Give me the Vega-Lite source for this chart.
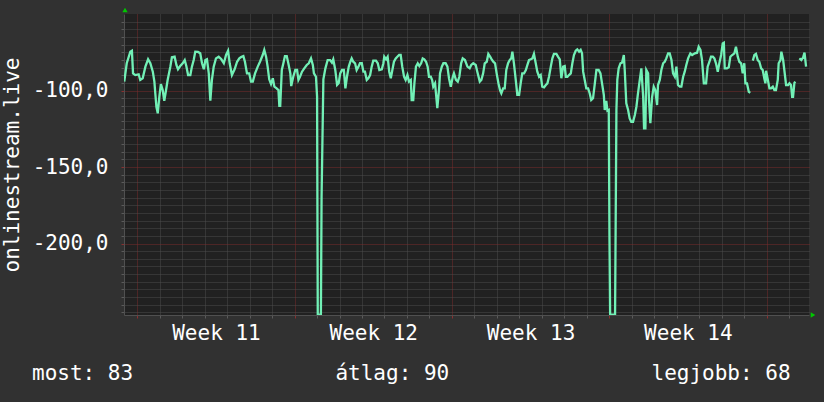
{
  "$schema": "https://vega.github.io/schema/vega-lite/v6.json",
  "width": 685,
  "height": 301,
  "autosize": {"type": "none"},
  "padding": {"left": 124, "top": 14, "right": 15, "bottom": 87},
  "background": "#313131",
  "view": {"fill": "#212121", "stroke": null},
  "config": {"font": "DejaVu Sans Mono"},
  "resolve": {"axis": {"x": "independent", "y": "independent"}, "scale": {"x": "shared", "y": "shared"}},
  "title": {
    "text": "most: 83\u00a0\u00a0\u00a0\u00a0\u00a0\u00a0\u00a0\u00a0\u00a0\u00a0\u00a0\u00a0\u00a0\u00a0\u00a0\u00a0átlag: 90\u00a0\u00a0\u00a0\u00a0\u00a0\u00a0\u00a0\u00a0\u00a0\u00a0\u00a0\u00a0\u00a0\u00a0\u00a0\u00a0legjobb: 68",
    "orient": "bottom",
    "anchor": "start",
    "frame": "group",
    "dx": -92,
    "offset": 20,
    "font": "DejaVu Sans Mono",
    "fontSize": 21,
    "fontWeight": "normal",
    "color": "#ffffff"
  },
  "layer": [
    {
      "data": {"values": [
        {"d": -0.58, "v": -94.2}, {"d": -0.47, "v": -82.2}, {"d": -0.31, "v": -74.6}, {"d": -0.24, "v": -74.0},
        {"d": -0.19, "v": -88.8}, {"d": -0.09, "v": -89.9}, {"d": 0.06, "v": -89.4}, {"d": 0.13, "v": -93.1},
        {"d": 0.24, "v": -92.0}, {"d": 0.36, "v": -84.4}, {"d": 0.48, "v": -79.6}, {"d": 0.58, "v": -82.2},
        {"d": 0.69, "v": -87.7}, {"d": 0.76, "v": -94.2}, {"d": 0.80, "v": -101.8}, {"d": 0.85, "v": -110.6},
        {"d": 0.91, "v": -114.9}, {"d": 0.98, "v": -104.1}, {"d": 1.05, "v": -95.8}, {"d": 1.13, "v": -99.7},
        {"d": 1.20, "v": -106.7}, {"d": 1.28, "v": -99.7}, {"d": 1.35, "v": -93.1}, {"d": 1.47, "v": -84.4},
        {"d": 1.54, "v": -78.3}, {"d": 1.66, "v": -77.9}, {"d": 1.74, "v": -83.3}, {"d": 1.81, "v": -86.1},
        {"d": 1.91, "v": -84.0}, {"d": 2.02, "v": -82.2}, {"d": 2.11, "v": -80.1}, {"d": 2.18, "v": -84.0},
        {"d": 2.26, "v": -89.9}, {"d": 2.36, "v": -89.9}, {"d": 2.43, "v": -84.4}, {"d": 2.51, "v": -80.1},
        {"d": 2.58, "v": -74.6}, {"d": 2.70, "v": -74.8}, {"d": 2.80, "v": -75.7}, {"d": 2.88, "v": -82.2},
        {"d": 2.96, "v": -86.1}, {"d": 3.03, "v": -80.1}, {"d": 3.10, "v": -79.6}, {"d": 3.18, "v": -88.8},
        {"d": 3.25, "v": -106.7}, {"d": 3.32, "v": -93.1}, {"d": 3.40, "v": -84.4}, {"d": 3.50, "v": -79.0},
        {"d": 3.62, "v": -77.9}, {"d": 3.74, "v": -79.6}, {"d": 3.85, "v": -82.2}, {"d": 3.95, "v": -76.8},
        {"d": 4.04, "v": -74.0}, {"d": 4.11, "v": -82.2}, {"d": 4.21, "v": -89.9}, {"d": 4.33, "v": -86.1},
        {"d": 4.44, "v": -81.2}, {"d": 4.54, "v": -79.0}, {"d": 4.62, "v": -78.1}, {"d": 4.72, "v": -77.5},
        {"d": 4.79, "v": -81.2}, {"d": 4.88, "v": -88.8}, {"d": 4.98, "v": -88.8}, {"d": 5.06, "v": -94.2},
        {"d": 5.14, "v": -94.2}, {"d": 5.24, "v": -88.8}, {"d": 5.36, "v": -84.4}, {"d": 5.46, "v": -81.2},
        {"d": 5.58, "v": -76.8}, {"d": 5.65, "v": -73.5}, {"d": 5.73, "v": -77.9}, {"d": 5.80, "v": -84.4},
        {"d": 5.87, "v": -92.7}, {"d": 5.95, "v": -95.8}, {"d": 6.03, "v": -92.0}, {"d": 6.10, "v": -97.5},
        {"d": 6.20, "v": -98.6}, {"d": 6.28, "v": -99.7}, {"d": 6.32, "v": -110.1}, {"d": 6.36, "v": -110.1},
        {"d": 6.43, "v": -86.6}, {"d": 6.50, "v": -82.2}, {"d": 6.57, "v": -77.5}, {"d": 6.65, "v": -77.5},
        {"d": 6.72, "v": -82.2}, {"d": 6.81, "v": -88.8}, {"d": 6.85, "v": -97.1}, {"d": 6.94, "v": -91.0},
        {"d": 7.03, "v": -86.6}, {"d": 7.11, "v": -86.6}, {"d": 7.17, "v": -93.1}, {"d": 7.24, "v": -91.0},
        {"d": 7.33, "v": -87.7}, {"d": 7.43, "v": -85.5}, {"d": 7.54, "v": -83.3}, {"d": 7.63, "v": -82.2},
        {"d": 7.73, "v": -79.0}, {"d": 7.81, "v": -83.3}, {"d": 7.86, "v": -88.8}, {"d": 7.95, "v": -91.0},
        {"d": 8.00, "v": -104.1}, {"d": 8.03, "v": -246.4}, {"d": 8.17, "v": -246.4}, {"d": 8.20, "v": -169.6},
        {"d": 8.28, "v": -92.7}, {"d": 8.37, "v": -85.5}, {"d": 8.47, "v": -80.1}, {"d": 8.58, "v": -80.1},
        {"d": 8.66, "v": -81.8}, {"d": 8.72, "v": -79.6}, {"d": 8.81, "v": -86.6}, {"d": 8.89, "v": -96.4},
        {"d": 8.96, "v": -95.3}, {"d": 9.03, "v": -88.8}, {"d": 9.11, "v": -86.6}, {"d": 9.19, "v": -86.6},
        {"d": 9.26, "v": -98.6}, {"d": 9.33, "v": -91.0}, {"d": 9.41, "v": -84.4}, {"d": 9.48, "v": -81.2},
        {"d": 9.54, "v": -79.0}, {"d": 9.61, "v": -81.2}, {"d": 9.69, "v": -82.2}, {"d": 9.76, "v": -86.6},
        {"d": 9.84, "v": -84.4}, {"d": 9.91, "v": -82.2}, {"d": 9.99, "v": -82.2}, {"d": 10.06, "v": -87.7},
        {"d": 10.13, "v": -87.7}, {"d": 10.21, "v": -93.1}, {"d": 10.28, "v": -92.0}, {"d": 10.36, "v": -89.9},
        {"d": 10.43, "v": -84.4}, {"d": 10.50, "v": -80.5}, {"d": 10.62, "v": -80.5}, {"d": 10.70, "v": -82.2},
        {"d": 10.77, "v": -86.6}, {"d": 10.88, "v": -86.1}, {"d": 10.95, "v": -82.2}, {"d": 10.99, "v": -77.9},
        {"d": 11.07, "v": -79.6}, {"d": 11.14, "v": -77.9}, {"d": 11.21, "v": -87.7}, {"d": 11.28, "v": -92.0},
        {"d": 11.35, "v": -86.6}, {"d": 11.42, "v": -81.2}, {"d": 11.50, "v": -79.0}, {"d": 11.57, "v": -77.9},
        {"d": 11.65, "v": -76.8}, {"d": 11.72, "v": -76.8}, {"d": 11.79, "v": -84.4}, {"d": 11.87, "v": -91.0},
        {"d": 11.94, "v": -93.1}, {"d": 12.02, "v": -89.9}, {"d": 12.09, "v": -94.2}, {"d": 12.17, "v": -93.1},
        {"d": 12.21, "v": -106.2}, {"d": 12.28, "v": -106.2}, {"d": 12.33, "v": -95.3}, {"d": 12.40, "v": -84.4},
        {"d": 12.48, "v": -82.2}, {"d": 12.55, "v": -84.0}, {"d": 12.63, "v": -82.2}, {"d": 12.70, "v": -79.0},
        {"d": 12.77, "v": -79.6}, {"d": 12.85, "v": -81.2}, {"d": 12.92, "v": -84.4}, {"d": 12.98, "v": -91.0},
        {"d": 13.06, "v": -91.0}, {"d": 13.12, "v": -93.1}, {"d": 13.17, "v": -97.5}, {"d": 13.25, "v": -95.3},
        {"d": 13.29, "v": -101.8}, {"d": 13.35, "v": -111.6}, {"d": 13.43, "v": -98.6}, {"d": 13.47, "v": -88.8},
        {"d": 13.55, "v": -84.4}, {"d": 13.62, "v": -82.2}, {"d": 13.72, "v": -82.2}, {"d": 13.80, "v": -84.4},
        {"d": 13.87, "v": -92.0}, {"d": 13.95, "v": -97.5}, {"d": 14.04, "v": -91.0}, {"d": 14.09, "v": -88.8},
        {"d": 14.18, "v": -93.1}, {"d": 14.26, "v": -94.2}, {"d": 14.33, "v": -91.0}, {"d": 14.41, "v": -82.2},
        {"d": 14.48, "v": -79.0}, {"d": 14.58, "v": -80.1}, {"d": 14.69, "v": -84.4}, {"d": 14.79, "v": -85.5},
        {"d": 14.86, "v": -83.3}, {"d": 14.95, "v": -82.2}, {"d": 15.06, "v": -83.3}, {"d": 15.13, "v": -87.7},
        {"d": 15.24, "v": -94.2}, {"d": 15.31, "v": -93.1}, {"d": 15.39, "v": -88.8}, {"d": 15.46, "v": -82.2},
        {"d": 15.55, "v": -81.2}, {"d": 15.62, "v": -76.1}, {"d": 15.70, "v": -77.9}, {"d": 15.77, "v": -79.6},
        {"d": 15.84, "v": -81.2}, {"d": 15.92, "v": -82.2}, {"d": 15.99, "v": -88.8}, {"d": 16.07, "v": -95.3},
        {"d": 16.14, "v": -99.7}, {"d": 16.20, "v": -101.8}, {"d": 16.28, "v": -98.6}, {"d": 16.35, "v": -98.6},
        {"d": 16.42, "v": -86.6}, {"d": 16.50, "v": -82.2}, {"d": 16.57, "v": -80.1}, {"d": 16.64, "v": -79.0},
        {"d": 16.69, "v": -74.6}, {"d": 16.76, "v": -82.2}, {"d": 16.84, "v": -93.1}, {"d": 16.91, "v": -102.9},
        {"d": 16.99, "v": -102.9}, {"d": 17.06, "v": -95.3}, {"d": 17.13, "v": -88.8}, {"d": 17.21, "v": -88.8},
        {"d": 17.29, "v": -86.6}, {"d": 17.36, "v": -83.3}, {"d": 17.43, "v": -80.1}, {"d": 17.51, "v": -79.6},
        {"d": 17.58, "v": -79.0}, {"d": 17.65, "v": -76.1}, {"d": 17.73, "v": -82.2}, {"d": 17.80, "v": -87.7},
        {"d": 17.88, "v": -91.0}, {"d": 17.95, "v": -89.9}, {"d": 18.02, "v": -97.5}, {"d": 18.10, "v": -97.9},
        {"d": 18.18, "v": -96.4}, {"d": 18.25, "v": -95.3}, {"d": 18.32, "v": -91.0}, {"d": 18.40, "v": -84.4},
        {"d": 18.47, "v": -79.0}, {"d": 18.54, "v": -76.1}, {"d": 18.65, "v": -76.1}, {"d": 18.72, "v": -77.9},
        {"d": 18.80, "v": -79.6}, {"d": 18.87, "v": -92.0}, {"d": 18.95, "v": -84.4}, {"d": 19.02, "v": -84.0},
        {"d": 19.07, "v": -91.0}, {"d": 19.14, "v": -91.0}, {"d": 19.21, "v": -89.9}, {"d": 19.29, "v": -88.8},
        {"d": 19.36, "v": -82.2}, {"d": 19.43, "v": -76.8}, {"d": 19.51, "v": -74.0}, {"d": 19.58, "v": -73.1},
        {"d": 19.66, "v": -74.6}, {"d": 19.73, "v": -73.5}, {"d": 19.79, "v": -75.7}, {"d": 19.84, "v": -87.7},
        {"d": 19.91, "v": -93.1}, {"d": 19.98, "v": -98.6}, {"d": 20.06, "v": -98.6}, {"d": 20.13, "v": -101.8},
        {"d": 20.20, "v": -106.2}, {"d": 20.28, "v": -105.1}, {"d": 20.36, "v": -95.3}, {"d": 20.43, "v": -86.6},
        {"d": 20.53, "v": -86.6}, {"d": 20.61, "v": -88.8}, {"d": 20.68, "v": -95.3}, {"d": 20.76, "v": -102.9},
        {"d": 20.80, "v": -112.7}, {"d": 20.87, "v": -106.7}, {"d": 20.92, "v": -113.2}, {"d": 20.98, "v": -112.7},
        {"d": 21.01, "v": -194.4}, {"d": 21.04, "v": -246.4}, {"d": 21.26, "v": -246.4}, {"d": 21.32, "v": -112.7},
        {"d": 21.36, "v": -93.1}, {"d": 21.42, "v": -85.5}, {"d": 21.50, "v": -82.2}, {"d": 21.57, "v": -81.8},
        {"d": 21.65, "v": -76.8}, {"d": 21.69, "v": -86.6}, {"d": 21.76, "v": -108.4}, {"d": 21.84, "v": -112.7},
        {"d": 21.91, "v": -118.2}, {"d": 21.98, "v": -120.4}, {"d": 22.06, "v": -120.4}, {"d": 22.14, "v": -116.0},
        {"d": 22.21, "v": -110.6}, {"d": 22.28, "v": -101.8}, {"d": 22.36, "v": -93.1}, {"d": 22.43, "v": -85.5},
        {"d": 22.51, "v": -104.1}, {"d": 22.55, "v": -124.7}, {"d": 22.61, "v": -124.7}, {"d": 22.65, "v": -86.6},
        {"d": 22.73, "v": -88.8}, {"d": 22.77, "v": -106.2}, {"d": 22.83, "v": -121.4}, {"d": 22.91, "v": -104.1},
        {"d": 22.98, "v": -97.5}, {"d": 23.05, "v": -99.7}, {"d": 23.13, "v": -109.5}, {"d": 23.17, "v": -96.4},
        {"d": 23.25, "v": -93.1}, {"d": 23.32, "v": -86.6}, {"d": 23.40, "v": -82.2}, {"d": 23.47, "v": -81.2},
        {"d": 23.54, "v": -79.0}, {"d": 23.62, "v": -75.7}, {"d": 23.69, "v": -75.7}, {"d": 23.77, "v": -80.1},
        {"d": 23.84, "v": -88.8}, {"d": 23.92, "v": -91.0}, {"d": 23.99, "v": -84.4}, {"d": 24.06, "v": -96.4},
        {"d": 24.14, "v": -97.5}, {"d": 24.21, "v": -97.5}, {"d": 24.29, "v": -91.0}, {"d": 24.36, "v": -87.7},
        {"d": 24.43, "v": -83.3}, {"d": 24.51, "v": -79.0}, {"d": 24.61, "v": -75.7}, {"d": 24.69, "v": -76.8},
        {"d": 24.81, "v": -75.7}, {"d": 24.91, "v": -75.3}, {"d": 24.98, "v": -71.4}, {"d": 25.06, "v": -73.5},
        {"d": 25.13, "v": -80.1}, {"d": 25.21, "v": -95.3}, {"d": 25.31, "v": -95.3}, {"d": 25.38, "v": -84.4},
        {"d": 25.46, "v": -81.2}, {"d": 25.53, "v": -77.9}, {"d": 25.61, "v": -77.9}, {"d": 25.68, "v": -79.0},
        {"d": 25.75, "v": -82.2}, {"d": 25.83, "v": -87.7}, {"d": 25.90, "v": -82.2}, {"d": 25.98, "v": -76.8},
        {"d": 26.05, "v": -69.2}, {"d": 26.10, "v": -68.8}, {"d": 26.14, "v": -85.5}, {"d": 26.24, "v": -85.5},
        {"d": 26.32, "v": -84.8}, {"d": 26.39, "v": -77.9}, {"d": 26.47, "v": -76.8}, {"d": 26.57, "v": -75.7},
        {"d": 26.64, "v": -71.4}, {"d": 26.72, "v": -77.9}, {"d": 26.79, "v": -81.2}, {"d": 26.87, "v": -82.2},
        {"d": 26.94, "v": -88.8}, {"d": 27.01, "v": -82.2}, {"d": 27.06, "v": -95.3}, {"d": 27.13, "v": -95.3},
        {"d": 27.21, "v": -100.8}, {"d": 27.28, "v": -101.4}, {"d": 27.32, "v": null}, {"d": 27.39, "v": -80.5},
        {"d": 27.46, "v": -76.8}, {"d": 27.53, "v": -76.1}, {"d": 27.61, "v": -80.1}, {"d": 27.68, "v": -81.2},
        {"d": 27.76, "v": -85.5}, {"d": 27.83, "v": -86.6}, {"d": 27.90, "v": -92.0}, {"d": 27.95, "v": -95.3},
        {"d": 27.98, "v": -87.1}, {"d": 28.06, "v": -93.1}, {"d": 28.13, "v": -98.6}, {"d": 28.20, "v": -98.6},
        {"d": 28.28, "v": -97.5}, {"d": 28.35, "v": -99.7}, {"d": 28.42, "v": -99.7}, {"d": 28.50, "v": -93.1},
        {"d": 28.54, "v": -82.2}, {"d": 28.62, "v": -80.1}, {"d": 28.66, "v": -74.6}, {"d": 28.74, "v": -80.1},
        {"d": 28.81, "v": -88.8}, {"d": 28.87, "v": -96.4}, {"d": 28.96, "v": -96.4}, {"d": 29.02, "v": -95.3},
        {"d": 29.09, "v": -96.4}, {"d": 29.14, "v": -104.1}, {"d": 29.18, "v": -104.1}, {"d": 29.24, "v": -95.0},
        {"d": 29.28, "v": -94.2}, {"d": 29.35, "v": null}, {"d": 29.46, "v": -79.0}, {"d": 29.55, "v": -80.1},
        {"d": 29.63, "v": -78.3}, {"d": 29.69, "v": -75.2}, {"d": 29.76, "v": -84.4}
      ]},
      "mark": {"type": "line", "color": "#72F0B6", "strokeWidth": 2.3, "clip": true, "invalid": "break-paths-filter-domains"},
      "encoding": {
        "x": {
          "field": "d", "type": "quantitative",
          "scale": {"domain": [-0.592, 29.89], "nice": false, "zero": false},
          "axis": {
            "orient": "bottom",
            "title": null,
            "values": [0,1,2,3,4,5,6,7,8,9,10,11,12,13,14,15,16,17,18,19,20,21,22,23,24,25,26,27,28,29,3.5,10.5,17.5,24.5],
            "grid": true,
            "gridDash": [1, 1],
            "gridWidth": 1,
            "gridColor": {"condition": {"test": "datum.value % 7 === 0", "value": "#7a2c2c"}, "value": "#4c4c4c"},
            "gridOpacity": {"condition": {"test": "datum.value % 1 !== 0", "value": 0}, "value": 1},
            "tickColor": {"condition": {"test": "datum.value % 7 === 0", "value": "#8a3030"}, "value": "#5a5a5a"},
            "tickOpacity": {"condition": {"test": "datum.value % 1 !== 0", "value": 0}, "value": 1},
            "tickSize": 3,
            "domainColor": "#505050",
            "labelExpr": "datum.value % 7 === 3.5 ? 'Week ' + (11 + (datum.value - 3.5) / 7) : ''",
            "labelFont": "DejaVu Sans Mono",
            "labelFontSize": 21,
            "labelColor": "#ffffff",
            "labelPadding": 4,
            "labelOverlap": false,
            "labelFlush": false
          }
        },
        "y": {
          "field": "v", "type": "quantitative",
          "scale": {"domain": [-246.7, -50], "nice": false, "zero": false},
          "axis": {
            "orient": "left",
            "title": "onlinestream.live",
            "titleFont": "DejaVu Sans Mono",
            "titleFontSize": 21,
            "titleFontWeight": "normal",
            "titleColor": "#ffffff",
            "titlePadding": 10,
            "values": [-245,-240,-235,-230,-225,-220,-215,-210,-205,-200,-195,-190,-185,-180,-175,-170,-165,-160,-155,-150,-145,-140,-135,-130,-125,-120,-115,-110,-105,-100,-95,-90,-85,-80,-75,-70,-65,-60,-55],
            "grid": true,
            "gridDash": [1, 1],
            "gridWidth": 1,
            "gridColor": {"condition": {"test": "datum.value % 50 === 0", "value": "#7a2c2c"}, "value": "#4c4c4c"},
            "tickColor": {"condition": {"test": "datum.value % 50 === 0", "value": "#8a3030"}, "value": "#5a5a5a"},
            "tickSize": 3,
            "domainColor": "#505050",
            "labelExpr": "datum.value % 50 === 0 ? datum.value + ',0' : ''",
            "labelFont": "DejaVu Sans Mono",
            "labelFontSize": 21,
            "labelColor": "#ffffff",
            "labelPadding": 13,
            "labelOverlap": false
          }
        }
      }
    },
    {
      "data": {"values": [{"arrow": "y"}]},
      "mark": {"type": "point", "shape": "triangle-up", "filled": true, "size": 28, "color": "#00c800", "opacity": 1, "clip": false, "yOffset": -4, "xOffset": 1},
      "encoding": {"x": {"datum": -0.592, "axis": null}, "y": {"datum": -50, "axis": null}}
    },
    {
      "data": {"values": [{"arrow": "x"}]},
      "mark": {"type": "point", "shape": "triangle-right", "filled": true, "size": 28, "color": "#00c800", "opacity": 1, "clip": false, "xOffset": 4},
      "encoding": {"x": {"datum": 29.89, "axis": null}, "y": {"datum": -246.7, "axis": null}}
    }
  ]
}
